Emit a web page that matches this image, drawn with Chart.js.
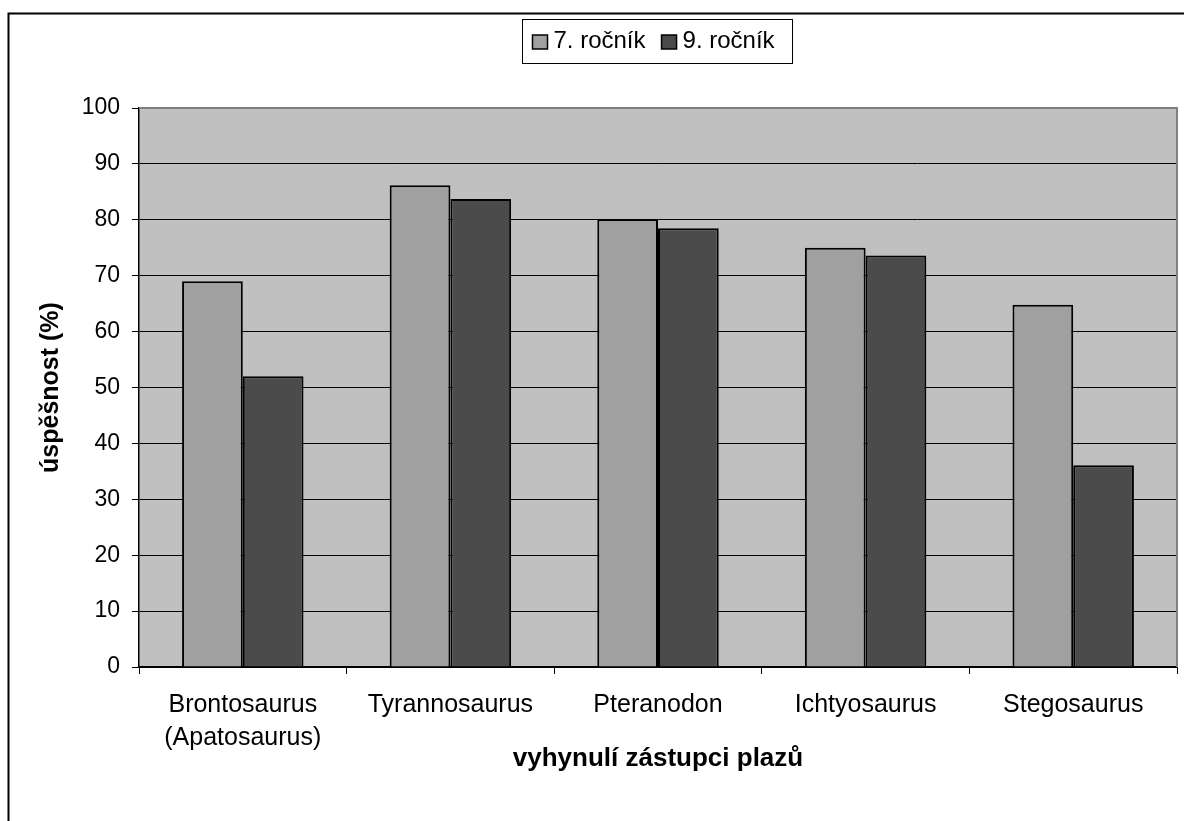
<!DOCTYPE html>
<html>
<head>
<meta charset="utf-8">
<script src="https://cdn.jsdelivr.net/npm/chart.js@4/dist/chart.umd.min.js"></script>
<style>
  html, body { margin: 0; padding: 0; background: #ffffff; }
  #wrap { width: 1184px; height: 821px; position: relative; }
</style>
</head>
<body>
<div id="wrap"><canvas id="c" width="1184" height="821"></canvas></div>
<script>
// Categories (extinct reptiles) and success rates for two school grades
const categories = [
  ['Brontosaurus', '(Apatosaurus)'],
  'Tyrannosaurus',
  'Pteranodon',
  'Ichtyosaurus',
  'Stegosaurus'
];
const grade7 = [69, 86.2, 80.1, 75, 64.8];
const grade9 = [52, 83.7, 78.5, 73.6, 36.1];
const seriesLabels = ['7. ročník', '9. ročník'];
const yTicks = [0, 10, 20, 30, 40, 50, 60, 70, 80, 90, 100];
const yTitle = 'úspěšnost (%)';
const xTitle = 'vyhynulí zástupci plazů';

const FONT = "'Liberation Sans', Arial, sans-serif";
const colors = ['#a0a0a0', '#4b4b4b'];

// Background, plot fill and the outer chart frame
const backdrop = {
  id: 'backdrop',
  beforeDraw(chart) {
    const { ctx, chartArea: a } = chart;
    ctx.save();
    ctx.fillStyle = '#ffffff';
    ctx.fillRect(0, 0, chart.width, chart.height);
    ctx.fillStyle = '#c0c0c0';
    ctx.fillRect(a.left, a.top, a.right - a.left, a.bottom - a.top);
    ctx.strokeStyle = '#000000';
    ctx.lineWidth = 2;
    ctx.strokeRect(8.5, 13.5, chart.width + 20, chart.height + 20);
    ctx.restore();
  },
  beforeDatasetsDraw(chart) {
    const { ctx, chartArea: a } = chart;
    ctx.save();
    ctx.strokeStyle = '#808080';
    ctx.lineWidth = 2;
    ctx.beginPath();
    ctx.moveTo(a.left, a.top);
    ctx.lineTo(a.right, a.top);
    ctx.lineTo(a.right, a.bottom);
    ctx.stroke();
    ctx.restore();
  }
};

// Boxed legend centred above the plot
const boxedLegend = {
  id: 'boxedLegend',
  afterDraw(chart) {
    const { ctx } = chart;
    const ds = chart.data.datasets;
    ctx.save();
    ctx.font = '24px ' + FONT;
    const sq = 15, gapSq = 6, gapItem = 16, padX = 10;
    let total = padX * 2;
    const widths = ds.map(d => ctx.measureText(d.label).width);
    widths.forEach((w, i) => { total += sq + gapSq + w + (i ? gapItem : 0); });
    const left = 522.5;
    total = Math.max(total, 270);
    const top = 19.5, h = 44;
    ctx.fillStyle = '#ffffff';
    ctx.fillRect(left, top, total, h);
    ctx.strokeStyle = '#000000';
    ctx.lineWidth = 1;
    ctx.strokeRect(left, top, total, h);
    let x = left + padX;
    const my = top + h / 2;
    ds.forEach((d, i) => {
      if (i) x += gapItem;
      ctx.fillStyle = d.backgroundColor;
      ctx.fillRect(x, my - sq / 2 + 1, sq, sq - 1);
      ctx.strokeStyle = '#000000';
      ctx.lineWidth = 1.5;
      ctx.strokeRect(x, my - sq / 2 + 1, sq, sq - 1);
      x += sq + gapSq;
      ctx.fillStyle = '#000000';
      ctx.textBaseline = 'middle';
      ctx.textAlign = 'left';
      ctx.fillText(d.label, x, my);
      x += widths[i];
    });
    ctx.restore();
  }
};

new Chart(document.getElementById('c'), {
  type: 'bar',
  data: {
    labels: categories,
    datasets: [
      { label: seriesLabels[0], data: grade7, backgroundColor: colors[0] },
      { label: seriesLabels[1], data: grade9, backgroundColor: colors[1] }
    ]
  },
  options: {
    responsive: false,
    animation: false,
    devicePixelRatio: 1,
    layout: { padding: { top: 108, right: 7, bottom: 0, left: 8 } },
    datasets: {
      bar: {
        categoryPercentage: 0.585,
        barPercentage: 1.0,
        borderColor: '#000000',
        borderWidth: 2,
        borderSkipped: 'start'
      }
    },
    plugins: {
      legend: { display: false },
      tooltip: { enabled: false },
      title: { display: false }
    },
    scales: {
      x: {
        afterFit(scale) { scale.height = 154; },
        grid: {
          display: true,
          drawOnChartArea: false,
          drawTicks: true,
          tickLength: 7,
          color: '#000000',
          lineWidth: 1
        },
        border: { display: true, color: '#000000', width: 1.5 },
        ticks: {
          color: '#000000',
          font: { family: FONT, size: 25, lineHeight: 1.3 },
          padding: 15,
          maxRotation: 0,
          autoSkip: false
        },
        title: {
          display: true,
          text: xTitle,
          color: '#000000',
          font: { family: FONT, size: 26, weight: 'bold' },
          padding: { top: 0, bottom: 47 }
        }
      },
      y: {
        min: 0,
        max: 100,
        afterFit(scale) { scale.width = 131; },
        afterBuildTicks(scale) { scale.ticks = yTicks.map(v => ({ value: v })); },
        grid: {
          color: '#000000',
          lineWidth: 1,
          drawTicks: true,
          tickLength: 7
        },
        border: { display: true, color: '#000000', width: 1.5 },
        ticks: {
          color: '#000000',
          font: { family: FONT, size: 23 },
          padding: 12
        },
        title: {
          display: true,
          text: yTitle,
          color: '#000000',
          font: { family: FONT, size: 25, weight: 'bold' },
          padding: { top: 28, bottom: 0 }
        }
      }
    }
  },
  plugins: [backdrop, boxedLegend]
});
</script>
</body>
</html>
